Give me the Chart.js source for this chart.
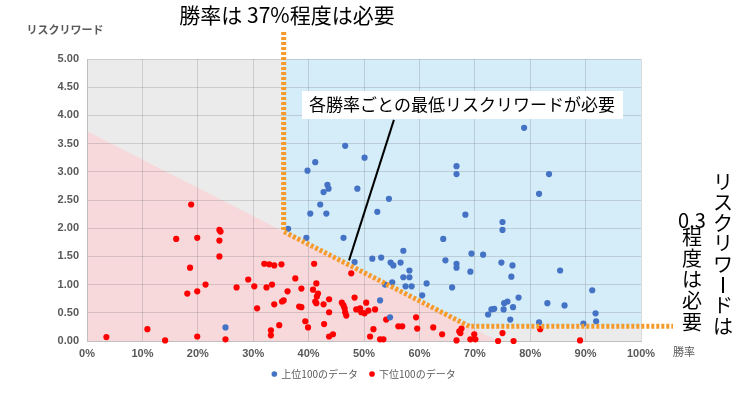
<!DOCTYPE html>
<html>
<head>
<meta charset="utf-8">
<script src="https://cdn.jsdelivr.net/npm/chart.js@4/dist/chart.umd.min.js"></script>
<style>
  html, body { margin: 0; padding: 0; background: #fff; }
  #wrap { width: 735px; height: 402px; }
</style>
</head>
<body>
<div id="wrap"><canvas id="myChart" width="735" height="402"></canvas></div>
<script>
// 上位100のデータ (勝率 %, リスクリワード)
const topWinRate = [36.3, 25.0, 46.6, 41.2, 39.8, 50.1, 43.4, 43.6, 42.7, 48.8, 42.1, 54.5, 40.3, 43.2, 52.4, 46.3, 39.6, 48.3, 51.5, 53.1,
  57.1, 54.8, 55.3, 56.6, 58.2, 57.1, 58.2, 55.1, 57.5, 58.6, 61.3, 60.5, 53.8, 52.9, 54.7, 64.3, 64.7, 66.7, 66.7, 65.9,
  69.4, 71.5, 69.2, 68.3, 66.7, 66.7, 72.4, 73.0, 73.5, 78.9, 83.4, 81.6, 75.0, 75.0, 74.8, 76.8, 76.6, 85.4, 77.9, 75.9,
  75.3, 76.9, 75.2, 76.4, 83.1, 86.2, 81.6, 91.2, 91.8, 91.9, 89.6];
const topRR = [1.99, 0.24, 3.46, 3.17, 3.02, 3.25, 2.77, 2.70, 2.64, 2.70, 2.42, 2.52, 2.26, 2.26, 2.29, 1.83, 1.83, 1.40, 1.46, 1.48,
  1.60, 1.39, 1.34, 1.39, 1.25, 1.13, 1.13, 1.04, 0.97, 0.97, 1.02, 0.81, 1.00, 0.72, 0.42, 1.81, 1.43, 1.37, 1.30, 0.95,
  1.55, 1.53, 1.23, 2.24, 3.10, 2.96, 0.47, 0.56, 0.57, 3.78, 2.96, 2.61, 2.11, 1.97, 1.39, 1.34, 1.14, 1.25, 0.77, 0.70,
  0.67, 0.60, 0.56, 0.38, 0.67, 0.63, 0.33, 0.90, 0.49, 0.35, 0.31];

// 下位100のデータ
const bottomWinRate = [18.8, 23.9, 24.1, 16.1, 19.9, 23.9, 23.9, 18.6, 32.0, 32.9, 33.8, 35.1, 29.1, 21.4, 27.0, 30.2, 32.4, 33.4, 37.6, 19.9,
  18.1, 36.2, 30.7, 33.8, 35.2, 35.5, 38.3, 38.7, 10.9, 3.5, 14.1, 19.9, 25.0, 33.2, 33.2, 34.7, 41.0, 47.7, 41.4, 40.8,
  41.7, 41.5, 41.2, 41.4, 42.7, 43.7, 38.7, 46.0, 46.3, 46.5, 46.6, 46.8, 48.3, 50.4, 48.6, 49.3, 49.5, 50.1, 50.8, 52.0,
  43.7, 39.4, 39.9, 42.8, 43.7, 44.4, 51.1, 51.7, 52.9, 53.5, 54.0, 56.2, 56.9, 59.4, 59.6, 62.5, 64.1, 66.7, 67.2, 67.4,
  67.6, 69.2, 69.9, 70.1, 74.2, 75.0, 77.0, 81.8, 89.0];
const bottomRR = [2.42, 1.97, 1.94, 1.81, 1.83, 1.78, 1.50, 1.30, 1.37, 1.36, 1.34, 1.36, 1.09, 1.00, 0.95, 0.97, 0.95, 1.00, 1.11, 0.88,
  0.84, 0.88, 0.58, 0.65, 0.70, 0.72, 0.61, 0.93, 0.21, 0.07, 0.01, 0.08, 0.03, 0.19, 0.10, 0.28, 1.37, 1.20, 1.02, 0.91,
  0.84, 0.79, 0.70, 0.67, 0.65, 0.74, 0.60, 0.68, 0.63, 0.58, 0.51, 0.45, 0.77, 0.68, 0.56, 0.58, 0.51, 0.49, 0.54, 0.56,
  0.51, 0.35, 0.24, 0.30, 0.08, 0.12, 0.08, 0.21, 0.03, 0.03, 0.38, 0.26, 0.26, 0.42, 0.22, 0.24, 0.12, 0.01, 0.17, 0.14,
  0.22, 0.03, 0.12, 0.03, 0.00, 0.14, 0.00, 0.21, 0.01];

const xTicks = [0, 10, 20, 30, 40, 50, 60, 70, 80, 90, 100];
const yTicks = [0, 0.5, 1, 1.5, 2, 2.5, 3, 3.5, 4, 4.5, 5];

// 境界線 (勝率, リスクリワード)
const lineStart = [0, 3.72];
const lineEnd = [74.2, 0];
const minWinRate = 35.5;
const minRR = 0.26;

function toPoints(xs, ys) {
  return xs.map((x, i) => ({ x: x, y: ys[i] }));
}
function edgeRR(x) {
  return lineStart[1] + (lineEnd[1] - lineStart[1]) * (x - lineStart[0]) / (lineEnd[0] - lineStart[0]);
}
function edgeX(rr) {
  return lineStart[0] + (lineEnd[0] - lineStart[0]) * (rr - lineStart[1]) / (lineEnd[1] - lineStart[1]);
}

const jp = "'Noto Sans CJK JP', 'Noto Sans', sans-serif";

const zonePlugin = {
  id: 'zones',
  afterLayout(chart) {
    // 凡例をプロット領域の中央に
    const lg = chart.legend;
    if (lg) {
      lg.left = chart.chartArea.left;
      lg.right = chart.chartArea.right;
    }
  },
  beforeDraw(chart) {
    const { ctx, chartArea: a, scales: { x, y } } = chart;
    ctx.save();
    ctx.fillStyle = '#ebebeb';
    ctx.fillRect(a.left, a.top, a.right - a.left, a.bottom - a.top);

    // 青ゾーン
    ctx.fillStyle = '#d5ecf9';
    ctx.beginPath();
    ctx.moveTo(x.getPixelForValue(minWinRate), y.getPixelForValue(5));
    ctx.lineTo(x.getPixelForValue(100), y.getPixelForValue(5));
    ctx.lineTo(x.getPixelForValue(100), y.getPixelForValue(minRR));
    ctx.lineTo(x.getPixelForValue(edgeX(minRR)), y.getPixelForValue(minRR));
    ctx.lineTo(x.getPixelForValue(minWinRate), y.getPixelForValue(edgeRR(minWinRate)));
    ctx.closePath();
    ctx.fill();

    // ピンクゾーン
    ctx.fillStyle = '#f7d9dc';
    ctx.beginPath();
    ctx.moveTo(x.getPixelForValue(0), y.getPixelForValue(0));
    ctx.lineTo(x.getPixelForValue(lineStart[0]), y.getPixelForValue(lineStart[1]));
    ctx.lineTo(x.getPixelForValue(lineEnd[0]), y.getPixelForValue(lineEnd[1]));
    ctx.closePath();
    ctx.fill();
    ctx.restore();
  },
  afterDatasetsDraw(chart) {
    const { ctx, scales: { x, y } } = chart;
    ctx.save();
    // オレンジの点線
    ctx.strokeStyle = '#f59b2b';
    ctx.lineWidth = 5;
    ctx.setLineDash([3, 2]);
    ctx.beginPath();
    ctx.moveTo(x.getPixelForValue(minWinRate), 32);
    ctx.lineTo(x.getPixelForValue(minWinRate), y.getPixelForValue(edgeRR(minWinRate)));
    ctx.lineTo(x.getPixelForValue(edgeX(minRR)), y.getPixelForValue(minRR));
    ctx.lineTo(673, y.getPixelForValue(minRR));
    ctx.stroke();
    ctx.setLineDash([]);

    // 吹き出しの線
    ctx.strokeStyle = '#000';
    ctx.lineWidth = 2;
    ctx.beginPath();
    ctx.moveTo(x.getPixelForValue(55.4), y.getPixelForValue(3.92));
    ctx.lineTo(x.getPixelForValue(47.3), y.getPixelForValue(1.43));
    ctx.stroke();

    // 吹き出し
    ctx.fillStyle = '#fff';
    ctx.fillRect(302, 91, 321, 28);
    ctx.fillStyle = '#000';
    ctx.font = '17px ' + jp;
    ctx.textAlign = 'center';
    ctx.textBaseline = 'middle';
    ctx.fillText('各勝率ごとの最低リスクリワードが必要', 462, 105);

    // タイトル
    ctx.font = '21px ' + jp;
    ctx.fillText('勝率は 37%程度は必要', 287, 15);

    // 縦書き
    ctx.font = '20px ' + jp;
    const col1 = ['リ', 'ス', 'ク', 'リ', 'ワ', '｜', 'ド', 'は'];
    col1.forEach((c, i) => {
      if (c === '｜') {
        ctx.fillRect(722, 182 + i * 20.6 - 8, 2, 16);
      } else {
        ctx.fillText(c, 723, 182 + i * 20.6);
      }
    });
    const col2 = ['0.3', '程', '度', 'は', '必', '要'];
    col2.forEach((c, i) => {
      ctx.fillText(c, 692, i === 0 ? 220 : 216 + i * 21.2);
    });

    // 軸タイトル
    ctx.fillStyle = '#595959';
    ctx.font = 'bold 11px ' + jp;
    ctx.fillText('リスクリワード', 65, 30);
    ctx.font = '11px ' + jp;
    ctx.fillText('勝率', 684, 352);
    ctx.restore();
  }
};

const ctx = document.getElementById('myChart').getContext('2d');

const myChart = new Chart(ctx, {
  type: 'scatter',
  data: {
    datasets: [{
      label: '上位100のデータ',
      data: toPoints(topWinRate, topRR),
      backgroundColor: '#4472c4',
      borderWidth: 0,
      pointRadius: 3.1,
      clip: false
    }, {
      label: '下位100のデータ',
      data: toPoints(bottomWinRate, bottomRR),
      backgroundColor: '#ff0000',
      borderWidth: 0,
      pointRadius: 3.1,
      clip: false
    }]
  },
  options: {
    responsive: false,
    animation: false,
    layout: { padding: { top: 59, right: 94, left: 0, bottom: 13 } },
    plugins: {
      legend: {
        position: 'bottom',
        labels: {
          usePointStyle: true,
          pointStyle: 'circle',
          boxWidth: 4,
          boxHeight: 4,
          padding: 12,
          color: '#595959',
          font: { size: 10, family: jp }
        }
      },
      tooltip: { enabled: false }
    },
    scales: {
      x: {
        type: 'linear',
        min: 0,
        max: 100,
        afterBuildTicks: s => { s.ticks = xTicks.map(v => ({ value: v })); },
        afterFit: s => { s.height = 16; },
        ticks: {
          callback: v => v + '%',
          color: '#595959',
          padding: 6,
          maxRotation: 0,
          font: { size: 11, weight: 'bold', family: "'Liberation Sans', Arial, sans-serif" }
        },
        grid: { color: 'rgba(110,110,110,0.25)', drawTicks: false },
        border: { color: '#bfbfbf', width: 1 }
      },
      y: {
        min: 0,
        max: 5,
        afterBuildTicks: s => { s.ticks = yTicks.map(v => ({ value: v })); },
        afterFit: s => { s.width = 87; },
        ticks: {
          callback: v => v.toFixed(2),
          color: '#595959',
          padding: 8,
          font: { size: 11, weight: 'bold', family: "'Liberation Sans', Arial, sans-serif" }
        },
        grid: { color: 'rgba(110,110,110,0.25)', drawTicks: false },
        border: { color: '#bfbfbf', width: 1 }
      }
    }
  },
  plugins: [zonePlugin]
});
</script>
</body>
</html>
